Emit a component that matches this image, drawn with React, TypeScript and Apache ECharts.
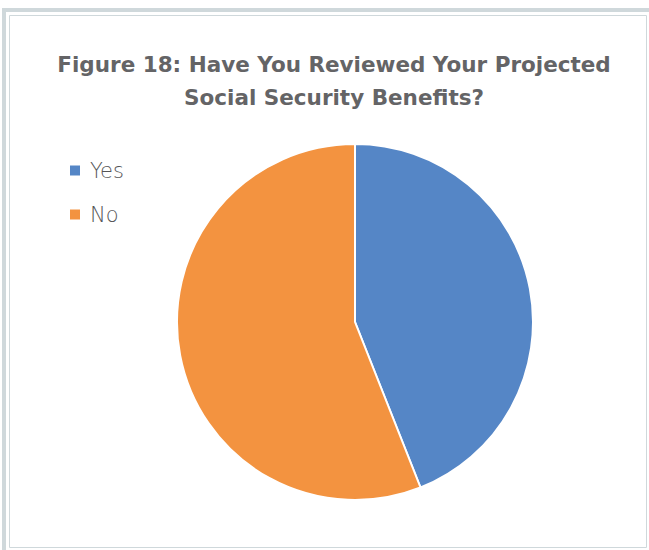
import React, { useEffect, useRef } from "react";
import * as echarts from "echarts";

const titleLines = ["Figure 18: Have You Reviewed Your Projected", "Social Security Benefits?"];
const categories = ["Yes", "No"];
const values = [44, 56];
const colors = ["#5586c6", "#f39340"];

export default function App() {
  const ref = useRef<HTMLDivElement>(null);
  useEffect(() => {
    if (!ref.current) return;
    const chart = echarts.init(ref.current, null, { renderer: "svg" });
    chart.setOption({
      animation: false,
      backgroundColor: "#ffffff",
      title: {
        text: titleLines.join("\n"),
        left: 329,
        textAlign: "center",
        top: 43,
        textStyle: {
          fontFamily: "DejaVu Sans",
          fontWeight: "bold",
          fontSize: 21.5,
          lineHeight: 33,
          color: "#646466",
        },
      },
      legend: {
        orient: "vertical",
        left: 63,
        top: 155,
        icon: "rect",
        itemWidth: 12,
        itemHeight: 12,
        itemGap: 23,
        data: categories,
        textStyle: {
          fontFamily: "DejaVu Sans",
          fontWeight: 200,
          fontSize: 21,
          lineHeight: 21,
          color: "#555557",
          padding: [0, 0, 0, 4],
        },
      },
      graphic: [
        { type: "rect", shape: { x: 2, y: 8, width: 647, height: 4 }, style: { fill: "#cfd8db" } },
        { type: "rect", shape: { x: 2, y: 8, width: 4, height: 542 }, style: { fill: "#cfd8db" } },
        {
          type: "rect",
          shape: { x: 9.5, y: 15.5, width: 637, height: 532 },
          style: { fill: "none", stroke: "#cfd8db", lineWidth: 1 },
        },
      ],
      series: [
        {
          type: "pie",
          center: [355, 322],
          radius: 178,
          startAngle: 90,
          clockwise: true,
          label: { show: false },
          labelLine: { show: false },
          emphasis: { disabled: true },
          itemStyle: { borderColor: "#ffffff", borderWidth: 2 },
          data: categories.map((c, i) => ({ name: c, value: values[i], itemStyle: { color: colors[i] } })),
        },
      ],
    });
    return () => chart.dispose();
  }, []);
  return <div ref={ref} style={{ position: "fixed", left: 0, top: 0, width: 649, height: 550 }} />;
}
